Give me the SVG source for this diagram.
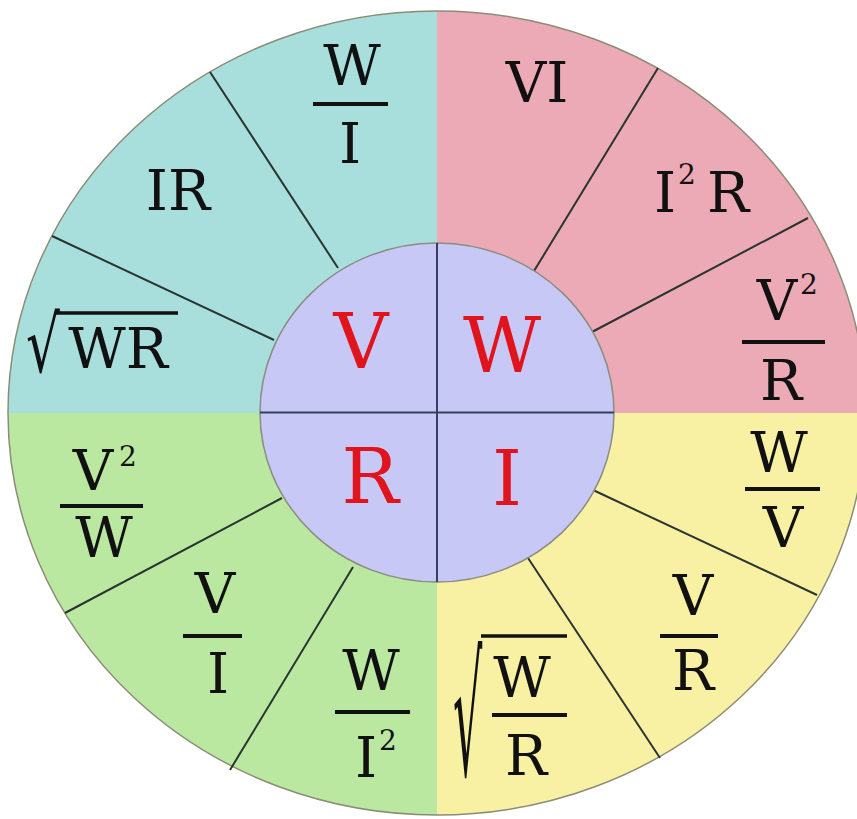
<svg xmlns="http://www.w3.org/2000/svg" width="857" height="819" viewBox="0 0 857 819">
<style>
.q{stroke:none}
.sp{stroke:#2a3430;stroke-width:2;fill:none}
.bar{stroke:#111;stroke-width:4}
.t{font-family:"DejaVu Serif","Liberation Serif",serif;font-size:56px;fill:#111;text-anchor:middle}
.s{font-family:"DejaVu Serif","Liberation Serif",serif;font-size:28px;fill:#111}
.rad{font-family:"DejaVu Serif","Liberation Serif",serif;font-size:56px;fill:#111}
.r{font-family:"DejaVu Serif","Liberation Serif",serif;font-size:76px;fill:#e0141c;text-anchor:middle}
</style>
<rect width="857" height="819" fill="#ffffff"/>
<g id="ring">
<path class="q" fill="#a8dfdd" d="M437,413 L8,413 A429,402 0 0 1 437,11 Z"/>
<path class="q" fill="#ebaab5" d="M437,413 L437,11 A429,402 0 0 1 866,413 Z"/>
<path class="q" fill="#f8f1a4" d="M437,413 L866,413 A429,402 0 0 1 437,815 Z"/>
<path class="q" fill="#bbe8a1" d="M437,413 L437,815 A429,402 0 0 1 8,413 Z"/>
<ellipse cx="437" cy="413" rx="429" ry="402" fill="none" stroke="#8c8c76" stroke-width="1.5"/>
</g>
<g id="connectors">
<line class="sp" x1="210" y1="72" x2="338" y2="268"/>
<line class="sp" x1="52" y1="236" x2="274" y2="340"/>
<line class="sp" x1="658" y1="68" x2="534" y2="271"/>
<line class="sp" x1="808" y1="218" x2="592" y2="332"/>
<line class="sp" x1="65" y1="613" x2="282" y2="498"/>
<line class="sp" x1="230" y1="770" x2="353" y2="567"/>
<line class="sp" x1="817" y1="595" x2="593" y2="490"/>
<line class="sp" x1="660" y1="758" x2="528" y2="558"/>
</g>
<g id="center">
<ellipse cx="437" cy="412.5" rx="177" ry="169.5" fill="#c8c8f7" stroke="#8c8c80" stroke-width="1.5"/>
<line x1="437" y1="243" x2="437" y2="582" stroke="#34405e" stroke-width="2"/>
<line x1="260" y1="412.5" x2="614" y2="412.5" stroke="#34405e" stroke-width="2"/>
<text class="r" x="361" y="368">V</text>
<text class="r" x="502" y="372">W</text>
<text class="r" x="370" y="503">R</text>
<text class="r" x="507" y="505">I</text>
</g>
<g id="tl-w-over-i">
<text class="t" x="352" y="85">W</text>
<line class="bar" x1="313" y1="104" x2="388" y2="104"/>
<text class="t" x="350" y="163">I</text>
</g>
<g id="tl-ir"><text class="t" x="178" y="210">IR</text></g>
<g id="tl-sqrt-wr">
<text class="t" x="118" y="368">WR</text>
<text class="rad" transform="translate(26,372) scale(0.95,1.4)">√</text>
<line x1="56" y1="313" x2="178" y2="313" stroke="#111" stroke-width="3.5"/>
</g>
<g id="tr-vi"><text class="t" x="537" y="102">VI</text></g>
<g id="tr-i2r">
<text class="t" x="665" y="212">I</text>
<text class="s" x="678" y="184">2</text>
<text class="t" x="728" y="212">R</text>
</g>
<g id="tr-v2-over-r">
<text class="t" x="777" y="320">V</text>
<text class="s" x="800" y="294">2</text>
<line class="bar" x1="742" y1="342" x2="825" y2="342"/>
<text class="t" x="781" y="400">R</text>
</g>
<g id="bl-v2-over-w">
<text class="t" x="93" y="490">V</text>
<text class="s" x="119" y="466">2</text>
<line class="bar" x1="60" y1="506" x2="143" y2="506"/>
<text class="t" x="104" y="557">W</text>
</g>
<g id="bl-v-over-i">
<text class="t" x="215" y="613">V</text>
<line class="bar" x1="183" y1="636" x2="242" y2="636"/>
<text class="t" x="218" y="693">I</text>
</g>
<g id="bl-w-over-i2">
<text class="t" x="371" y="690">W</text>
<line class="bar" x1="335" y1="712" x2="410" y2="712"/>
<text class="t" x="366" y="777">I</text>
<text class="s" x="379" y="750">2</text>
</g>
<g id="br-w-over-v">
<text class="t" x="779" y="472">W</text>
<line class="bar" x1="745" y1="489" x2="820" y2="489"/>
<text class="t" x="783" y="547">V</text>
</g>
<g id="br-v-over-r">
<text class="t" x="693" y="615">V</text>
<line class="bar" x1="660" y1="636" x2="718" y2="636"/>
<text class="t" x="693" y="690">R</text>
</g>
<g id="br-sqrt-w-over-r">
<text class="t" x="522" y="697">W</text>
<line class="bar" x1="492" y1="715" x2="567" y2="715"/>
<text class="t" x="526" y="775">R</text>
<text class="rad" transform="translate(453,775) scale(0.82,2.95)">√</text>
<line x1="481" y1="636" x2="567" y2="636" stroke="#111" stroke-width="3.5"/>
</g>
</svg>
